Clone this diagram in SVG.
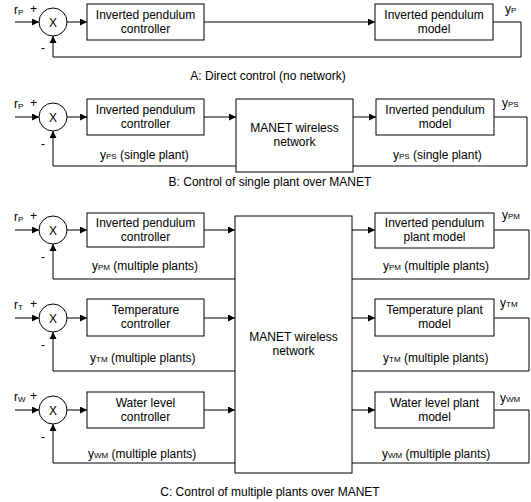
<svg xmlns="http://www.w3.org/2000/svg" width="531" height="502" viewBox="0 0 531 502">
<defs>
<marker id="arr" viewBox="0 0 10 10" refX="10" refY="5" markerWidth="8" markerHeight="7" markerUnits="userSpaceOnUse" orient="auto">
<path d="M0,0 L10,5 L0,10 z" fill="#000"/>
</marker>
<style>
text{font-family:"Liberation Sans",Arial,sans-serif;font-size:12px;fill:#000}
.c{text-anchor:middle}
.s{font-size:8px}
.box{fill:#fff;stroke:#000;stroke-width:1}
.ln{fill:none;stroke:#000;stroke-width:1}
.a{marker-end:url(#arr)}
</style>
</defs>
<rect width="531" height="502" fill="#fff"/>

<g id="connectors">
<!-- A -->
<path class="ln a" d="M15,22 H39"/>
<path class="ln a" d="M67,22 H87"/>
<path class="ln a" d="M204,22 H375"/>
<path class="ln" d="M493,22 H521 V57 H53"/>
<path class="ln a" d="M53,57 V36"/>
<!-- B -->
<path class="ln a" d="M15,117 H39"/>
<path class="ln a" d="M67,117 H87"/>
<path class="ln a" d="M204,117 H236"/>
<path class="ln a" d="M353,117 H376"/>
<path class="ln" d="M494,117 H527 V166 H353"/>
<path class="ln" d="M236,166 H53"/>
<path class="ln a" d="M53,166 V131"/>
<!-- C row1 -->
<path class="ln a" d="M15,230 H39"/>
<path class="ln a" d="M67,230 H87"/>
<path class="ln a" d="M204,230 H235"/>
<path class="ln a" d="M352,230 H375"/>
<path class="ln" d="M494,230 H529 V279 H352"/>
<path class="ln" d="M235,279 H53"/>
<path class="ln a" d="M53,279 V244"/>
<!-- C row2 -->
<path class="ln a" d="M15,318 H39"/>
<path class="ln a" d="M67,318 H87"/>
<path class="ln a" d="M204,318 H235"/>
<path class="ln a" d="M352,318 H375"/>
<path class="ln" d="M494,318 H529 V371 H352"/>
<path class="ln" d="M235,371 H53"/>
<path class="ln a" d="M53,371 V332"/>
<!-- C row3 -->
<path class="ln a" d="M15,410 H39"/>
<path class="ln a" d="M67,410 H87"/>
<path class="ln a" d="M204,410 H235"/>
<path class="ln a" d="M352,410 H375"/>
<path class="ln" d="M494,410 H529 V463 H352"/>
<path class="ln" d="M235,463 H53"/>
<path class="ln a" d="M53,463 V424"/>
</g>

<!-- Section A -->
<g id="sumA">
<circle class="box" cx="53" cy="22" r="14"/>
<text class="c" x="53" y="26.5">X</text>
<text x="14" y="14">r<tspan class="s" dy="1">P</tspan></text>
<text x="30" y="13">+</text>
<text x="41" y="52">-</text>
</g>
<g id="ctrlA">
<rect class="box" x="87" y="4" width="117" height="36"/>
<text class="c" x="145.5" y="19">Inverted pendulum</text>
<text class="c" x="145.5" y="33">controller</text>
</g>
<g id="modelA">
<rect class="box" x="375" y="4" width="118" height="36"/>
<text class="c" x="434" y="19">Inverted pendulum</text>
<text class="c" x="434" y="33">model</text>
</g>
<text x="505" y="13">y<tspan class="s" dy="0">P</tspan></text>
<text class="c" x="268" y="80">A: Direct control (no network)</text>

<!-- Section B -->
<g id="sumB">
<circle class="box" cx="53" cy="117" r="14"/>
<text class="c" x="53" y="121.5">X</text>
<text x="14" y="108">r<tspan class="s" dy="1">P</tspan></text>
<text x="30" y="107">+</text>
<text x="41" y="148">-</text>
</g>
<g id="ctrlB">
<rect class="box" x="87" y="99" width="117" height="36"/>
<text class="c" x="145.5" y="114">Inverted pendulum</text>
<text class="c" x="145.5" y="128">controller</text>
</g>
<g id="manetB">
<rect class="box" x="236" y="99" width="117" height="73"/>
<text class="c" x="294.5" y="132">MANET wireless</text>
<text class="c" x="294.5" y="146">network</text>
</g>
<g id="modelB">
<rect class="box" x="376" y="99" width="118" height="36"/>
<text class="c" x="435" y="114">Inverted pendulum</text>
<text class="c" x="435" y="128">model</text>
</g>
<text x="502" y="107">y<tspan class="s">PS</tspan></text>
<text x="100" y="159">y<tspan class="s">PS</tspan> (single plant)</text>
<text x="393" y="159">y<tspan class="s">PS</tspan> (single plant)</text>
<text class="c" x="270" y="186">B: Control of single plant over MANET</text>

<!-- Section C -->
<g id="manetC">
<rect class="box" x="235" y="216" width="117" height="257"/>
<text class="c" x="293.5" y="341">MANET wireless</text>
<text class="c" x="293.5" y="355">network</text>
</g>

<g id="sumC1">
<circle class="box" cx="53" cy="230" r="14"/>
<text class="c" x="53" y="234.5">X</text>
<text x="14" y="221">r<tspan class="s" dy="1">P</tspan></text>
<text x="30" y="220">+</text>
<text x="41" y="261">-</text>
</g>
<g id="ctrlC1">
<rect class="box" x="87" y="213" width="117" height="34"/>
<text class="c" x="145.5" y="227">Inverted pendulum</text>
<text class="c" x="145.5" y="241">controller</text>
</g>
<g id="modelC1">
<rect class="box" x="375" y="213" width="119" height="35"/>
<text class="c" x="434.5" y="227">Inverted pendulum</text>
<text class="c" x="434.5" y="241">plant model</text>
</g>
<text x="502" y="219">y<tspan class="s">PM</tspan></text>
<text x="92" y="270">y<tspan class="s">PM</tspan> (multiple plants)</text>
<text x="383" y="270">y<tspan class="s">PM</tspan> (multiple plants)</text>

<g id="sumC2">
<circle class="box" cx="53" cy="318" r="14"/>
<text class="c" x="53" y="322.5">X</text>
<text x="14" y="309">r<tspan class="s" dy="1">T</tspan></text>
<text x="30" y="308">+</text>
<text x="41" y="349">-</text>
</g>
<g id="ctrlC2">
<rect class="box" x="87" y="299" width="117" height="37"/>
<text class="c" x="145.5" y="314">Temperature</text>
<text class="c" x="145.5" y="328">controller</text>
</g>
<g id="modelC2">
<rect class="box" x="375" y="299" width="119" height="37"/>
<text class="c" x="434.5" y="314">Temperature plant</text>
<text class="c" x="434.5" y="328">model</text>
</g>
<text x="500" y="307">y<tspan class="s">TM</tspan></text>
<text x="90" y="362">y<tspan class="s">TM</tspan> (multiple plants)</text>
<text x="383" y="362">y<tspan class="s">TM</tspan> (multiple plants)</text>

<g id="sumC3">
<circle class="box" cx="53" cy="410" r="14"/>
<text class="c" x="53" y="414.5">X</text>
<text x="14" y="401">r<tspan class="s" dy="1">W</tspan></text>
<text x="30" y="400">+</text>
<text x="41" y="441">-</text>
</g>
<g id="ctrlC3">
<rect class="box" x="87" y="392" width="117" height="36"/>
<text class="c" x="145.5" y="407">Water level</text>
<text class="c" x="145.5" y="421">controller</text>
</g>
<g id="modelC3">
<rect class="box" x="375" y="392" width="119" height="36"/>
<text class="c" x="434.5" y="407">Water level plant</text>
<text class="c" x="434.5" y="421">model</text>
</g>
<text x="500" y="402">y<tspan class="s">WM</tspan></text>
<text x="88" y="458">y<tspan class="s">WM</tspan> (multiple plants)</text>
<text x="382" y="458">y<tspan class="s">WM</tspan> (multiple plants)</text>
<text class="c" x="270" y="496">C: Control of multiple plants over MANET</text>
</svg>
